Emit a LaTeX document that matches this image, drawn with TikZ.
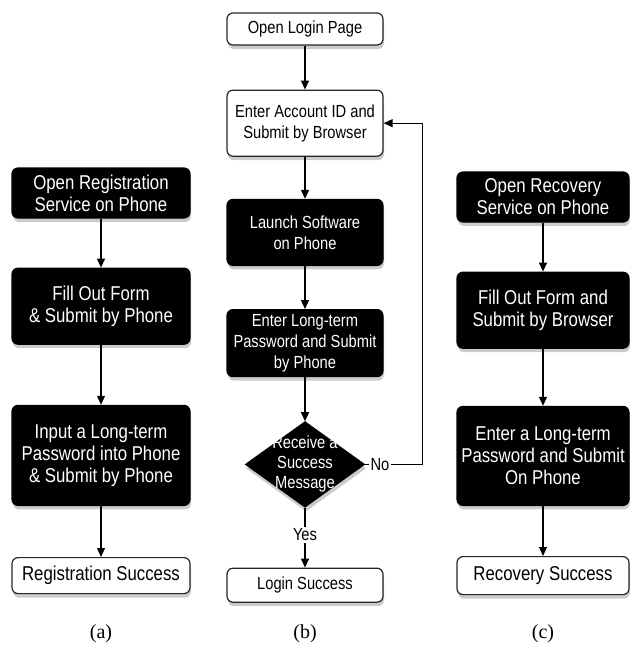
\documentclass[tikz,border=0pt]{standalone}
\usepackage{fontspec}
\usepackage{tikz}
\usetikzlibrary{arrows.meta,positioning,shapes.geometric,shadows}
\newfontfamily\boxfont{Liberation Sans}[FakeStretch=0.84]
\newfontfamily\capfont{Liberation Serif}
\definecolor{shadegray}{HTML}{6A6A6A}

\begin{document}
\begin{tikzpicture}[
  x=1pt, y=-1pt,
  font=\boxfont\fontsize{20}{22}\selectfont,
  small/.style={font=\boxfont\fontsize{17.5}{21}\selectfont},
  base/.style={rounded corners=6pt, align=center, inner sep=2pt, line width=1.2pt,
    drop shadow={shadow xshift=1pt, shadow yshift=-4pt, opacity=0.35, fill=shadegray}},
  dbox/.style={base, draw=black, fill=black, text=white},
  wbox/.style={base, draw=black!85, fill=white},
  choice/.style={diamond, draw=black, fill=black, inner sep=0pt, minimum width=120pt, minimum height=86pt,
    drop shadow={shadow xshift=1pt, shadow yshift=-4pt, opacity=0.35, fill=shadegray}},
  lbl/.style={small, fill=white, inner sep=2pt},
  captext/.style={font=\capfont\fontsize{20}{22}\selectfont},
  arr/.style={-{Triangle[length=9pt,width=8pt]}, line width=1.2pt}
]
\useasboundingbox (0,0) rectangle (630,645);

% (a) registration
\node[dbox, minimum width=178pt, minimum height=50pt] (reg1) at (101,193) {Open Registration\\Service on Phone};
\node[dbox, minimum width=178pt, minimum height=76pt, below=49pt of reg1] (reg2) {Fill Out Form\\\& Submit by Phone};
\node[dbox, minimum width=178pt, minimum height=100pt, below=60pt of reg2] (reg3) {Input a Long-term\\Password into Phone\\\& Submit by Phone};
\node[wbox, minimum width=178pt, minimum height=36pt, below=51pt of reg3] (regok) {Registration Success};
\node[captext] (capa) at (101,634) {(a)};

% (b) login
\node[wbox, small, minimum width=156pt, minimum height=32pt] (open) at (305,29) {Open Login Page};
\node[wbox, small, minimum width=156pt, minimum height=66pt, below=44pt of open] (account) {Enter Account ID and\\Submit by Browser};
\node[dbox, small, minimum width=156pt, minimum height=66pt, below=42pt of account] (launch) {Launch Software\\on Phone};
\node[dbox, small, minimum width=156pt, minimum height=67pt, below=43pt of launch] (enterpw) {Enter Long-term\\Password and Submit\\by Phone};
\node[choice, below=44pt of enterpw] (check) {};
\node[text=white, align=center, font=\boxfont\fontsize{17.5}{20}\selectfont] (checktext) at (check) {Receive a\\Success\\Message};
\node[wbox, small, minimum width=156pt, minimum height=34pt, below=60pt of check] (loginok) {Login Success};
\node[captext] (capb) at (305,634) {(b)};

% (c) recovery
\node[dbox, minimum width=172pt, minimum height=50pt] (rec1) at (543,197) {Open Recovery\\Service on Phone};
\node[dbox, minimum width=172pt, minimum height=76pt, below=49pt of rec1] (rec2) {Fill Out Form and\\Submit by Browser};
\node[dbox, minimum width=172pt, minimum height=99pt, below=57pt of rec2] (rec3) {Enter a Long-term\\Password and Submit\\On Phone};
\node[wbox, minimum width=172pt, minimum height=38pt, below=50pt of rec3] (recok) {Recovery Success};
\node[captext] (capc) at (543,634) {(c)};

\draw[arr] (reg1) -- (reg2);
\draw[arr] (reg2) -- (reg3);
\draw[arr] (reg3) -- (regok);

\draw[arr] (open) -- (account);
\draw[arr] (account) -- (launch);
\draw[arr] (launch) -- (enterpw);
\draw[arr] (enterpw) -- (check);
\draw[arr] (check) -- node[lbl, pos=0.45] {Yes} (loginok);
\draw[arr] (check.east) -- node[lbl, pos=0.26] {No} ++(57,0) |- (account.east);

\draw[arr] (rec1) -- (rec2);
\draw[arr] (rec2) -- (rec3);
\draw[arr] (rec3) -- (recok);
\end{tikzpicture}
\end{document}
